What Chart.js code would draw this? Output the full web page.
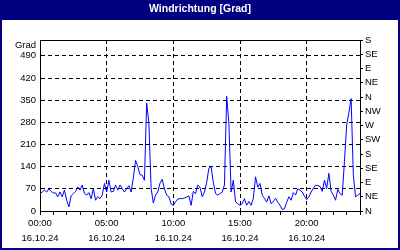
<!DOCTYPE html>
<html><head><meta charset="utf-8">
<script src="https://cdn.jsdelivr.net/npm/chart.js@4.4.1/dist/chart.umd.min.js"></script>
<style>html,body{margin:0;padding:0;background:#fff;}canvas{display:block;}</style>
</head><body>
<canvas id="c" width="400" height="250"></canvas>
<script>
const chartTitle = 'Windrichtung [Grad]';
const unitLabel = 'Grad';
const dateLabel = '16.10.24';
const hourLabels = ['00:00', '05:00', '10:00', '15:00', '20:00'];
const labelHours = [0, 5, 10, 15, 20];
const leftTicks = [0, 70, 140, 210, 280, 350, 420, 490];
const compassLabels = ['N', 'NE', 'E', 'SE', 'S', 'SW', 'W', 'NW', 'N', 'NE', 'E', 'SE', 'S'];
const compassStep = 45;
const sampleMinutes = 10;
const directionValues = [
  55, 60, 66, 60, 70, 62, 57, 57, 45, 60, 45, 66, 34, 13, 48, 55, 62, 76, 66, 82,
  55, 50, 58, 39, 71, 34, 45, 39, 50, 87, 60, 97, 60, 62, 82, 66, 82, 71, 60, 70,
  80, 60, 105, 160, 140, 115, 113, 97, 341, 278, 71, 25, 50, 60, 88, 100, 70, 50, 45, 22,
  18, 29, 38, 39, 39, 41, 44, 48, 18, 62, 55, 82, 75, 45, 60, 90, 135, 140, 90, 55,
  50, 55, 60, 82, 362, 278, 60, 97, 29, 23, 18, 23, 39, 18, 30, 18, 40, 108, 75, 87,
  50, 40, 28, 48, 23, 30, 40, 28, 18, 5, 7, 27, 45, 34, 58, 50, 70, 66, 60, 47,
  36, 45, 60, 72, 82, 80, 78, 62, 97, 71, 119, 62, 50, 34, 68, 55, 50, 156, 272, 310,
  355, 113, 45, 50, 55
];

const points = directionValues.map((v, i) => ({ x: i * sampleMinutes / 60, y: v }));

Chart.defaults.font.family = 'Liberation Sans';
Chart.defaults.font.size = 9.5;
Chart.defaults.color = '#000';

const frame = {
  id: 'frame',
  beforeDraw(c) {
    const x = c.ctx;
    x.save();
    x.fillStyle = '#ffffff';
    x.fillRect(0, 0, c.width, c.height);
    x.fillStyle = '#000080';
    x.fillRect(0, 0, c.width, 20);
    x.restore();
  },
  afterDraw(c) {
    const x = c.ctx, a = c.chartArea;
    x.save();
    x.strokeStyle = '#000';
    x.lineWidth = 1;
    x.beginPath();
    x.moveTo(Math.round(a.left), Math.round(a.top) + 0.5);
    x.lineTo(Math.round(a.right), Math.round(a.top) + 0.5);
    x.stroke();
    x.strokeStyle = '#000080';
    x.lineWidth = 4;
    x.strokeRect(0, 0, c.width, c.height);
    x.fillStyle = '#000';
    x.font = '9.5px "Liberation Sans"';
    x.textAlign = 'right';
    x.textBaseline = 'middle';
    x.fillText(unitLabel, a.left - 4, a.top + 5);
    x.restore();
  }
};

new Chart(document.getElementById('c'), {
  type: 'line',
  data: {
    datasets: [{
      data: points,
      borderColor: '#0000ff',
      borderWidth: 1,
      pointRadius: 0,
      tension: 0,
      fill: false,
      yAxisID: 'y'
    }]
  },
  options: {
    responsive: false,
    animation: false,
    devicePixelRatio: 1,
    layout: { padding: 0 },
    plugins: {
      legend: { display: false },
      tooltip: { enabled: false },
      title: {
        display: true,
        text: chartTitle,
        color: '#ffffff',
        font: { family: 'Liberation Sans', size: 10.5, weight: 'bold' },
        padding: { top: 3, bottom: 24.4 }
      }
    },
    scales: {
      x: {
        type: 'linear',
        min: 0,
        max: 24,
        afterFit(s) { s.height = 39; },
        ticks: {
          stepSize: 1,
          autoSkip: false,
          maxRotation: 0,
          padding: 1,
          font: { lineHeight: 1.55 },
          callback(v) {
            const k = labelHours.indexOf(v);
            return k >= 0 ? [hourLabels[k], dateLabel] : '';
          }
        },
        grid: {
          color(ctx) {
            const v = ctx.tick && ctx.tick.value;
            return (v > 0 && labelHours.includes(v)) ? '#000' : 'rgba(0,0,0,0)';
          },
          tickColor: '#000',
          tickLength: 4
        },
        border: { display: true, color: '#000', width: 1, dash: [4, 3] }
      },
      y: {
        position: 'left',
        min: 0,
        max: 540,
        afterFit(s) { s.width = 40; },
        afterBuildTicks(s) { s.ticks = leftTicks.map(v => ({ value: v })); },
        ticks: { padding: 4, autoSkip: false },
        grid: {
          color(ctx) { return ctx.tick && ctx.tick.value > 0 ? '#000' : 'rgba(0,0,0,0)'; },
          drawTicks: false
        },
        border: { display: true, color: '#000', width: 1, dash: [4, 3] }
      },
      y2: {
        position: 'right',
        min: 0,
        max: 540,
        afterFit(s) { s.width = 40; },
        afterBuildTicks(s) { s.ticks = compassLabels.map((l, i) => ({ value: i * compassStep })); },
        ticks: {
          padding: 2,
          autoSkip: false,
          callback(v, i) { return compassLabels[i]; }
        },
        grid: { drawOnChartArea: false, tickColor: '#000', tickLength: 3 },
        border: { display: true, color: '#000', width: 1 }
      }
    }
  },
  plugins: [frame]
});
</script>
</body></html>
